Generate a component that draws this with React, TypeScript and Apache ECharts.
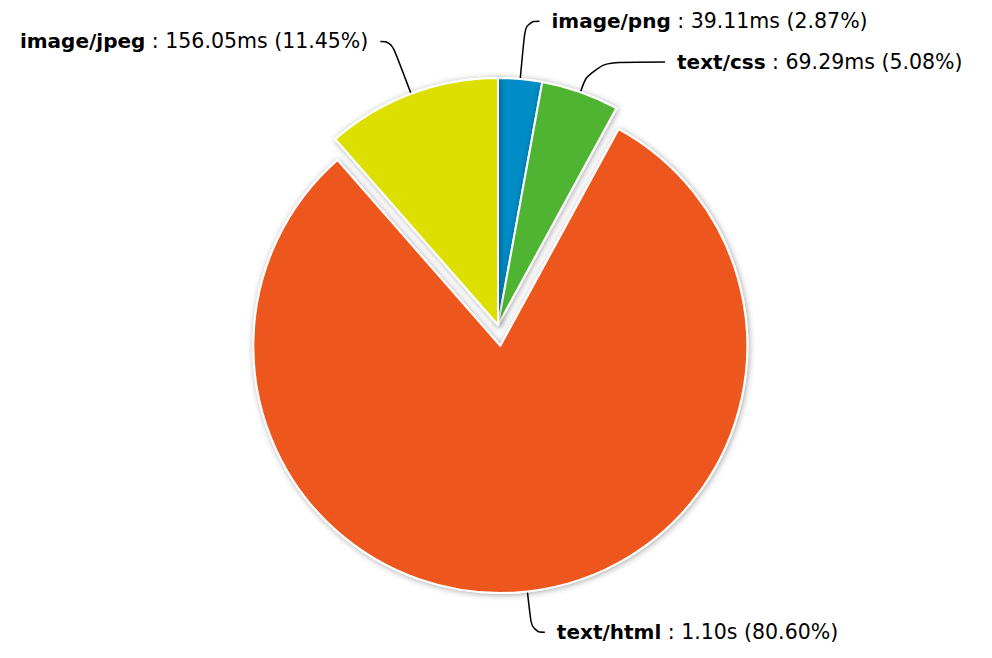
import React, { useEffect, useRef } from "react";
import * as echarts from "echarts";

const categories = ["image/png", "text/css", "text/html", "image/jpeg"];
const valuesMs = [39.11, 69.29, 1098.45, 156.05];
const colors = ["#058DC7", "#50B432", "#ED561B", "#DDDF00"];
const lineLengths = [58, 32, 41, 56];
const lineLengths2 = [14, 74, 13, 11];

const total = valuesMs.reduce((a, b) => a + b, 0);

function fmtTime(ms: number): string {
  if (ms >= 1000) return (ms / 1000).toFixed(2) + "s";
  return ms.toFixed(2) + "ms";
}

export default function App() {
  const ref = useRef<HTMLDivElement>(null);
  useEffect(() => {
    document.body.style.margin = "0";
    if (!ref.current) return;
    const chart = echarts.init(ref.current, undefined, { renderer: "svg" });
    chart.setOption({
      animation: false,
      backgroundColor: "#ffffff",
      series: [
        {
          type: "pie",
          center: [498, 325],
          radius: 247,
          startAngle: 90,
          clockwise: true,
          selectedMode: "single",
          selectedOffset: 21,
          avoidLabelOverlap: false,
          itemStyle: {
            borderColor: "#ffffff",
            borderWidth: 2,
            shadowBlur: 6,
            shadowColor: "rgba(0,0,0,0.35)",
            shadowOffsetX: 1,
            shadowOffsetY: 1,
          },
          label: {
            show: true,
            position: "outside",
            distanceToLabelLine: 12,
            fontFamily: "DejaVu Sans",
            fontSize: 20.5,
            color: "#000000",
            formatter: (p: any) => {
              const pct = ((p.value / total) * 100).toFixed(2);
              return `{b|${p.name}} : ${fmtTime(p.value)} (${pct}%)`;
            },
            rich: {
              b: {
                fontFamily: "DejaVu Sans",
                fontSize: 20,
                fontWeight: "bold",
                color: "#000000",
              },
            },
          },
          labelLine: {
            show: true,
            smooth: 0.5,
            lineStyle: { color: "#000000", width: 1.5 },
          },
          emphasis: { disabled: true },
          data: categories.map((name, i) => ({
            name,
            value: valuesMs[i],
            selected: name === "text/html",
            itemStyle: { color: colors[i] },
            labelLine: { length: lineLengths[i], length2: lineLengths2[i] },
          })),
        },
      ],
    });
    return () => chart.dispose();
  }, []);
  return <div ref={ref} style={{ width: 992, height: 658 }} />;
}
